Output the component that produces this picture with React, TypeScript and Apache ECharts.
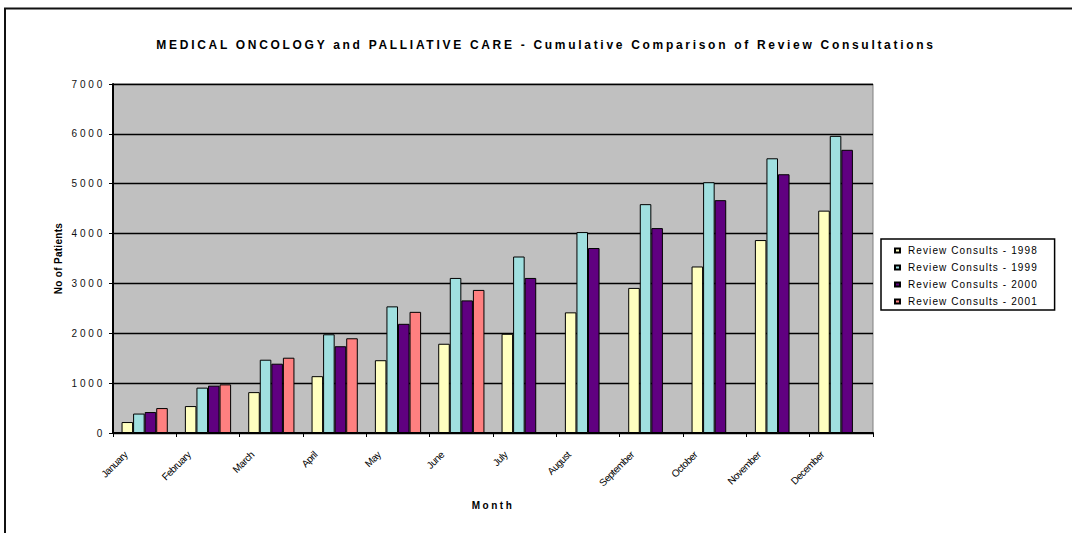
import React, { useEffect, useRef } from "react";
import * as echarts from "echarts";

const TITLE =
  "MEDICAL ONCOLOGY and PALLIATIVE CARE - Cumulative Comparison of Review Consultations";

const months = [
  "January", "February", "March", "April", "May", "June",
  "July", "August", "September", "October", "November", "December",
];

const seriesNames = [
  "Review Consults - 1998",
  "Review Consults - 1999",
  "Review Consults - 2000",
  "Review Consults - 2001",
];

// Cumulative review consultations per month
const consults1998 = [220, 540, 820, 1140, 1460, 1790, 1990, 2420, 2910, 3340, 3870, 4460];
const consults1999 = [390, 910, 1470, 1980, 2540, 3110, 3540, 4030, 4590, 5030, 5510, 5960];
const consults2000 = [420, 950, 1390, 1740, 2190, 2660, 3110, 3710, 4110, 4670, 5190, 5680];
// 2001 only runs January to June
const consults2001 = [500, 975, 1510, 1900, 2430, 2870];

const seriesColors = ["#FFFFC0", "#A0E0E0", "#600080", "#FF8080"];

const yTicks = { min: 0, max: 7000, interval: 1000 };

const FONT = "'Liberation Sans', Arial, Helvetica, sans-serif";

// Extra tracking for the chart's texts (applied to the rendered SVG)
function letterSpacingFor(t: string): number {
  if (t === TITLE) return 2.7;
  if (t === "Month") return 2.5;
  if (t === "No of Patients") return 0.3;
  if (seriesNames.includes(t)) return 1.1;
  if (/^\d+$/.test(t)) return 2.8;
  if (months.includes(t)) return -0.5;
  return 0;
}

export default function App() {
  const ref = useRef<HTMLDivElement>(null);

  useEffect(() => {
    const el = ref.current;
    if (!el) return;
    const chart = echarts.init(el, undefined, { renderer: "svg" });

    const data = [consults1998, consults1999, consults2000, consults2001];

    chart.setOption({
      animation: false,
      backgroundColor: "#FFFFFF",
      textStyle: { fontFamily: FONT, color: "#000" },
      title: {
        text: TITLE,
        left: 541,
        top: 34,
        textAlign: "center",
        textStyle: { fontFamily: FONT, fontSize: 12, fontWeight: "bold", color: "#000" },
      },
      graphic: [
        {
          type: "rect",
          silent: true,
          shape: { x: 5, y: 8.5, width: 1200, height: 600 },
          style: { fill: "none", stroke: "#111", lineWidth: 2 },
        },
      ],
      legend: {
        orient: "vertical",
        left: 881,
        top: 239,
        icon: "rect",
        itemWidth: 5,
        itemHeight: 4,
        itemGap: 6,
        padding: [6, 41, 3, 13],
        borderColor: "#000",
        borderWidth: 1.5,
        backgroundColor: "#FFFFFF",
        textStyle: {
          fontFamily: FONT,
          fontSize: 10,
          color: "#000",
          lineHeight: 11,
          padding: [0, 0, 0, 3],
        },
        data: seriesNames,
      },
      grid: {
        left: 113,
        right: 199,
        top: 84,
        bottom: 100,
        show: true,
        backgroundColor: "#C0C0C0",
        borderColor: "#808080",
        borderWidth: 1,
      },
      xAxis: {
        type: "category",
        data: months,
        name: "Month",
        nameLocation: "middle",
        nameGap: 67,
        nameTextStyle: { fontFamily: FONT, fontSize: 10, fontWeight: "bold", color: "#000" },
        axisLine: { lineStyle: { color: "#000", width: 2 } },
        axisTick: { show: true, length: 4, inside: false, lineStyle: { color: "#000", width: 1 } },
        axisLabel: {
          interval: 0,
          rotate: 45,
          margin: 1,
          fontSize: 10,
          color: "#000",
          fontFamily: FONT,
          padding: [0, 27, 0, 0],
        },
        splitLine: { show: false },
      },
      yAxis: {
        type: "value",
        min: yTicks.min,
        max: yTicks.max,
        interval: yTicks.interval,
        name: "No of Patients",
        nameLocation: "middle",
        nameGap: 50,
        nameTextStyle: { fontFamily: FONT, fontSize: 10, fontWeight: "bold", color: "#000" },
        axisLine: { show: true, lineStyle: { color: "#000", width: 2 } },
        axisTick: { show: true, length: 4, lineStyle: { color: "#000", width: 1 } },
        axisLabel: {
          margin: 8,
          fontSize: 10,
          color: "#111",
          fontFamily: FONT,
          formatter: (v: number) => String(v),
        },
        splitLine: { show: true, lineStyle: { color: "#000", width: 1.3 } },
      },
      series: seriesNames.map((name, i) => ({
        name,
        type: "bar",
        data: data[i],
        barGap: "0%",
        barCategoryGap: "27%",
        itemStyle: { color: seriesColors[i], borderColor: "#000", borderWidth: 1 },
      })),
    });

    const applySpacing = () => {
      el.querySelectorAll("text").forEach((t) => {
        const s = letterSpacingFor((t.textContent || "").trim());
        if (s) t.setAttribute("letter-spacing", String(s));
      });
    };
    applySpacing();
    chart.on("finished", applySpacing);
    const timer = window.setTimeout(applySpacing, 50);

    return () => {
      window.clearTimeout(timer);
      chart.dispose();
    };
  }, []);

  return (
    <div
      ref={ref}
      style={{ position: "absolute", left: 0, top: 0, width: 1072, height: 533 }}
    />
  );
}
